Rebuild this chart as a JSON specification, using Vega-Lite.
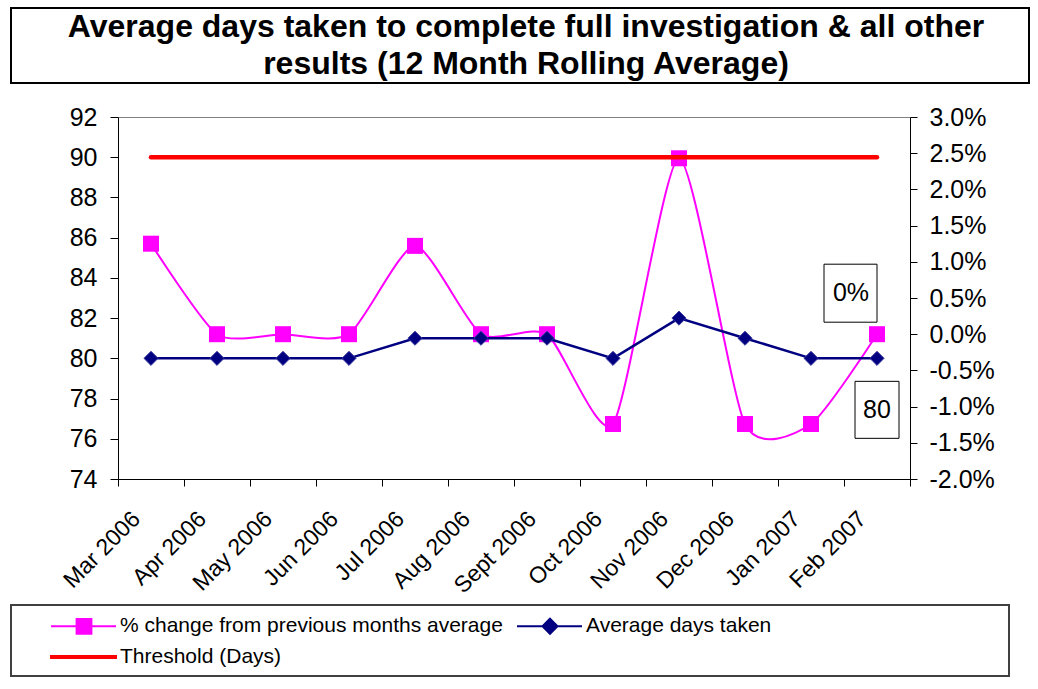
{
  "$schema": "https://vega.github.io/schema/vega-lite/v6.json",
  "background": "white",
  "padding": {"left": 3, "top": 7, "right": 0, "bottom": 0},
  "spacing": 21,
  "config": {
    "font": "Liberation Sans",
    "view": {"stroke": null},
    "axis": {"labelFont": "Liberation Sans", "labelColor": "#000", "domainColor": "#000", "tickColor": "#000", "grid": false, "title": null}
  },
  "resolve": {
    "scale": {"fill": "independent", "stroke": "independent", "shape": "independent"},
    "legend": {"fill": "independent", "stroke": "independent", "shape": "independent"}
  },
  "vconcat": [
    {
      "width": 1018,
      "height": 75,
      "view": {"stroke": "#000", "strokeWidth": 2},
      "data": {"values": [
        {"line": 1, "text": "Average days taken to complete full investigation & all other"},
        {"line": 2, "text": "results (12 Month Rolling Average)"}
      ]},
      "mark": {"type": "text", "font": "Liberation Sans", "fontWeight": "bold", "fontSize": 32, "align": "center", "baseline": "middle", "dx": 6, "color": "#000"},
      "encoding": {
        "x": {"datum": "title", "type": "nominal", "axis": null},
        "y": {"field": "line", "type": "ordinal", "axis": null},
        "text": {"field": "text"}
      }
    },
    {
      "spacing": 6,
      "resolve": {
        "scale": {"fill": "independent", "stroke": "independent", "shape": "independent"},
        "legend": {"fill": "independent", "stroke": "independent", "shape": "independent"}
      },
      "vconcat": [
        {
          "width": 1018,
          "height": 362,
          "data": {"values": [
            {"month": "Mar 2006", "pct": 0.0125, "days": 80, "threshold": 90},
            {"month": "Apr 2006", "pct": 0.0, "days": 80, "threshold": 90},
            {"month": "May 2006", "pct": 0.0, "days": 80, "threshold": 90},
            {"month": "Jun 2006", "pct": 0.0, "days": 80, "threshold": 90},
            {"month": "Jul 2006", "pct": 0.0122, "days": 81, "threshold": 90},
            {"month": "Aug 2006", "pct": 0.0, "days": 81, "threshold": 90},
            {"month": "Sept 2006", "pct": 0.0, "days": 81, "threshold": 90},
            {"month": "Oct 2006", "pct": -0.0124, "days": 80, "threshold": 90},
            {"month": "Nov 2006", "pct": 0.0243, "days": 82, "threshold": 90},
            {"month": "Dec 2006", "pct": -0.0124, "days": 81, "threshold": 90},
            {"month": "Jan 2007", "pct": -0.0124, "days": 80, "threshold": 90},
            {"month": "Feb 2007", "pct": 0.0, "days": 80, "threshold": 90}
          ]},
          "layer": [
            {
              "encoding": {
                "x": {
                  "field": "month", "type": "ordinal", "sort": null,
                  "scale": {"type": "band", "paddingInner": 0, "paddingOuter": 0, "range": [107, 899]},
                  "bandPosition": 0.5,
                  "axis": {
                    "orient": "bottom", "tickBand": "extent", "tickSize": 7, "labelAngle": -45, "labelAlign": "right", "labelBaseline": "middle",
                    "labelFontSize": 23, "labelPadding": 29, "labelOffset": -15, "domainWidth": 1
                  }
                },
                "y": {
                  "field": "pct", "type": "quantitative",
                  "scale": {"domain": [-0.02, 0.03], "nice": false, "zero": false},
                  "axis": {
                    "orient": "right", "offset": -119, "values": [-0.02, -0.015, -0.01, -0.005, 0, 0.005, 0.01, 0.015, 0.02, 0.025, 0.03],
                    "format": ".1%", "labelExpr": "replace(datum.label, '−', '-')",
                    "labelFontSize": 25, "labelPadding": 12, "tickSize": 7
                  }
                }
              },
              "layer": [
                {"mark": {"type": "line", "color": "#FF00FF", "strokeWidth": 2, "interpolate": "cardinal", "tension": 0.35}},
                {"mark": {"type": "point", "shape": "square", "filled": true, "color": "#FF00FF", "size": 256, "opacity": 1}},
                {
                  "transform": [{"filter": "datum.month === 'Feb 2007'"}],
                  "mark": {"type": "point", "shape": "M-1.06,-1.4H0V-0.24H-1.06Z", "size": 10000, "filled": false, "fill": "#ffffff", "fillOpacity": 1, "stroke": "#000", "strokeWidth": 1, "opacity": 1}
                },
                {
                  "transform": [{"filter": "datum.month === 'Feb 2007'"}],
                  "mark": {"type": "text", "fontSize": 25, "dx": -26, "dy": -41, "color": "#000", "align": "center", "baseline": "middle"},
                  "encoding": {"text": {"field": "pct", "format": ".0%"}}
                }
              ]
            },
            {
              "encoding": {
                "x": {
                  "field": "month", "type": "ordinal", "sort": null,
                  "scale": {"type": "band", "paddingInner": 0, "paddingOuter": 0, "range": [107, 899]},
                  "bandPosition": 0.5,
                  "axis": {"orient": "top", "labels": false, "ticks": false, "domainColor": "#808080", "domainWidth": 1}
                },
                "y": {
                  "field": "days", "type": "quantitative",
                  "scale": {"domain": [74, 92], "nice": false, "zero": false},
                  "axis": {
                    "orient": "left", "offset": -107, "values": [74, 76, 78, 80, 82, 84, 86, 88, 90, 92],
                    "labelFontSize": 25, "labelPadding": 13, "tickSize": 8
                  }
                }
              },
              "layer": [
                {"mark": {"type": "line", "color": "#000080", "strokeWidth": 2.5}},
                {"mark": {"type": "point", "shape": "diamond", "filled": true, "fill": "#000080", "stroke": "#3a3aa0", "strokeWidth": 1, "size": 200, "opacity": 1}},
                {
                  "mark": {"type": "line", "color": "#FF0000", "strokeWidth": 4.5, "strokeCap": "round"},
                  "encoding": {"y": {"field": "threshold", "type": "quantitative"}}
                },
                {
                  "transform": [{"filter": "datum.month === 'Feb 2007'"}],
                  "mark": {"type": "point", "shape": "M-0.44,0.46H0.44V1.6H-0.44Z", "size": 10000, "filled": false, "fill": "#ffffff", "fillOpacity": 1, "stroke": "#000", "strokeWidth": 1, "opacity": 1}
                },
                {
                  "transform": [{"filter": "datum.month === 'Feb 2007'"}],
                  "mark": {"type": "text", "fontSize": 25, "dx": 0, "dy": 52, "color": "#000", "align": "center", "baseline": "middle"},
                  "encoding": {"text": {"field": "days"}}
                }
              ]
            }
          ],
          "resolve": {"scale": {"y": "independent"}, "axis": {"x": "independent"}}
        },
        {
          "width": 998,
          "height": 71,
          "view": {"stroke": "#404040", "strokeWidth": 2},
          "data": {"values": []},
          "mark": {"type": "point", "filled": true, "opacity": 1},
          "encoding": {
            "fill": {
              "field": "series", "type": "nominal",
              "scale": {"domain": ["% change from previous months average", "Threshold (Days)", "Average days taken"], "range": ["#FF00FF", "#FF0000", "#000080"]},
              "legend": {"title": null, "orient": "none", "legendX": 40, "legendY": 10, "padding": 0, "columns": 2, "columnPadding": 10, "rowPadding": 8, "symbolSize": 400, "symbolStrokeWidth": 2, "symbolOpacity": 1, "labelFontSize": 21, "labelOffset": 47, "labelColor": "#000", "labelFont": "Liberation Sans", "labelLimit": 800}
            },
            "stroke": {
              "field": "series", "type": "nominal",
              "scale": {"domain": ["% change from previous months average", "Threshold (Days)", "Average days taken"], "range": ["#FF00FF", "#FF0000", "#000080"]},
              "legend": {"title": null, "orient": "none", "legendX": 40, "legendY": 10, "padding": 0, "columns": 2, "columnPadding": 10, "rowPadding": 8, "symbolSize": 400, "symbolStrokeWidth": 2, "symbolOpacity": 1, "labelFontSize": 21, "labelOffset": 47, "labelColor": "#000", "labelFont": "Liberation Sans", "labelLimit": 800}
            },
            "shape": {
              "field": "series", "type": "nominal",
              "scale": {"domain": ["% change from previous months average", "Threshold (Days)", "Average days taken"], "range": ["M-1.1,0H5.4M1.46,-0.74H2.94V0.74H1.46Z", "M-1.1,-0.1H5.4V0.1H-1.1Z", "M-1.1,0H5.4M2.2,-0.75L2.95,0L2.2,0.75L1.45,0Z"]},
              "legend": {"title": null, "orient": "none", "legendX": 40, "legendY": 10, "padding": 0, "columns": 2, "columnPadding": 10, "rowPadding": 8, "symbolSize": 400, "symbolStrokeWidth": 2, "symbolOpacity": 1, "labelFontSize": 21, "labelOffset": 47, "labelColor": "#000", "labelFont": "Liberation Sans", "labelLimit": 800}
            }
          }
        }
      ]
    }
  ]
}
